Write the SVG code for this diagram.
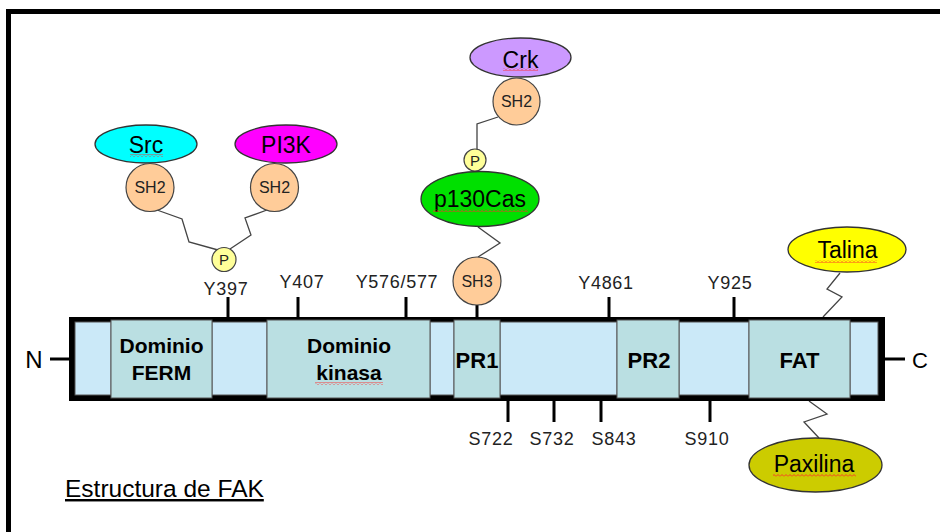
<svg xmlns="http://www.w3.org/2000/svg" width="940" height="532" viewBox="0 0 940 532">
<defs>
<pattern id="sq" width="4" height="3" patternUnits="userSpaceOnUse">
<path d="M0,2.5 L2,0.5 L4,2.5" fill="none" stroke="#ff2a2a" stroke-width="0.9"/>
</pattern>
</defs>
<style>
text{font-family:"Liberation Sans",Arial,sans-serif;fill:#000}
.dom{font-weight:bold;font-size:21px;text-anchor:middle}
.dom2{font-weight:bold;font-size:22px;text-anchor:middle}
.tick{font-size:18px;letter-spacing:0.7px;text-anchor:middle;fill:#222}
.lite{fill:#cbe9f8;stroke:#555;stroke-width:1}
.dark{fill:#badfe2;stroke:#555;stroke-width:1}
.tk{stroke:#000;stroke-width:3}
.sh{fill:#ffcc99;stroke:#444;stroke-width:1.2}
.sht{font-size:16px;text-anchor:middle;fill:#222}
.ph{fill:#ffff99;stroke:#444;stroke-width:1.2}
.pt{font-size:15px;text-anchor:middle;fill:#222}
.ell{stroke:#333;stroke-width:1.3}
.et{font-size:23px;text-anchor:middle}
.ln{fill:none;stroke:#444;stroke-width:1.3}
</style>
<rect width="940" height="532" fill="#fff"/>
<rect x="8.5" y="11.5" width="1000" height="600" fill="none" stroke="#000" stroke-width="5"/>

<g id="connectors">
<polyline class="ln" points="157,210 182,219 189,242 218,250"/>
<polyline class="ln" points="267,210 245,218 251,235 230,249"/>
<polyline class="ln" points="498,117 477,124 477,149"/>
<polyline class="ln" points="478,227 500,243 478,257"/>
<polyline class="ln" points="840,273 827,289 842,297 823,317"/>
<polyline class="ln" points="809,401 827,414 804,422 819,438"/>
<line class="tk" x1="50" y1="359" x2="69" y2="359"/>
<line class="tk" x1="885" y1="359" x2="905" y2="359"/>
<line class="tk" x1="228" y1="297" x2="228" y2="318"/>
<line class="tk" x1="298" y1="297" x2="298" y2="318"/>
<line class="tk" x1="406" y1="297" x2="406" y2="318"/>
<line class="tk" x1="477" y1="305" x2="477" y2="318"/>
<line class="tk" x1="609" y1="297" x2="609" y2="318"/>
<line class="tk" x1="734" y1="297" x2="734" y2="318"/>
<line class="tk" x1="508" y1="400" x2="508" y2="422"/>
<line class="tk" x1="554" y1="400" x2="554" y2="422"/>
<line class="tk" x1="601" y1="400" x2="601" y2="422"/>
<line class="tk" x1="710" y1="400" x2="710" y2="422"/>
</g>

<g id="fak-bar">
<rect x="69" y="317" width="816" height="84" fill="#000"/>
<rect class="lite" x="75" y="322" width="36" height="73"/>
<rect class="lite" x="212" y="322" width="55" height="73"/>
<rect class="lite" x="430" y="322" width="24" height="73"/>
<rect class="lite" x="500" y="322" width="117" height="73"/>
<rect class="lite" x="679" y="322" width="70" height="73"/>
<rect class="lite" x="850" y="322" width="28" height="73"/>
</g>
<g id="ferm">
<rect class="dark" x="111" y="320" width="101" height="78"/>
<text class="dom" x="161.5" y="353">Dominio</text>
<text class="dom" x="161.5" y="380">FERM</text>
</g>
<g id="kinasa">
<rect class="dark" x="267" y="320" width="163" height="78"/>
<text class="dom" x="349" y="353">Dominio</text>
<text class="dom" x="349" y="380">kinasa</text>
<rect x="315" y="382" width="68" height="3" fill="url(#sq)"/>
</g>
<g id="pr1">
<rect class="dark" x="454" y="320" width="46" height="78"/>
<text class="dom2" x="477" y="368">PR1</text>
</g>
<g id="pr2">
<rect class="dark" x="617" y="320" width="62" height="78"/>
<text class="dom2" x="649" y="368">PR2</text>
</g>
<g id="fat">
<rect class="dark" x="749" y="320" width="101" height="78"/>
<text class="dom2" x="799.5" y="368">FAT</text>
</g>

<g id="labels">
<text x="34" y="368" font-size="24" text-anchor="middle">N</text>
<text x="920" y="368" font-size="22" text-anchor="middle">C</text>
<text class="tick" x="226" y="295">Y397</text>
<text class="tick" x="302" y="288">Y407</text>
<text class="tick" x="397" y="288">Y576/577</text>
<text class="tick" x="606" y="289">Y4861</text>
<text class="tick" x="730" y="289">Y925</text>
<text class="tick" x="491" y="445">S722</text>
<text class="tick" x="552" y="445">S732</text>
<text class="tick" x="614" y="445">S843</text>
<text class="tick" x="707" y="445">S910</text>
</g>

<g id="src">
<ellipse class="ell" cx="146" cy="144" rx="51" ry="19" fill="#00ffff"/>
<text class="et" x="146" y="153">Src</text>
<rect x="130" y="154" width="33" height="3" fill="url(#sq)"/>
</g>
<g id="src-sh2">
<circle class="sh" cx="150" cy="187.5" r="24"/>
<text class="sht" x="150" y="193">SH2</text>
</g>
<g id="pi3k">
<ellipse class="ell" cx="286" cy="144" rx="51" ry="19" fill="#ff00ff"/>
<text class="et" x="286" y="153" font-size="24">PI3K</text>
</g>
<g id="pi3k-sh2">
<circle class="sh" cx="274.5" cy="187.5" r="24"/>
<text class="sht" x="274.5" y="193">SH2</text>
</g>
<g id="p-y397">
<circle class="ph" cx="224" cy="259.5" r="12"/>
<text class="pt" x="224" y="265">P</text>
</g>

<g id="crk">
<ellipse class="ell" cx="520.5" cy="57.5" rx="50.5" ry="19.5" fill="#cc99ff"/>
<text class="et" x="520.5" y="68">Crk</text>
<rect x="503" y="68" width="35" height="3" fill="url(#sq)"/>
</g>
<g id="crk-sh2">
<circle class="sh" cx="516.5" cy="101.5" r="23.5"/>
<text class="sht" x="516.5" y="107">SH2</text>
</g>
<g id="p-cas">
<circle class="ph" cx="475" cy="160" r="11"/>
<text class="pt" x="475" y="165.5">P</text>
</g>
<g id="p130cas">
<ellipse class="ell" cx="480" cy="199" rx="59" ry="27.5" fill="#00e000"/>
<text class="et" x="480" y="207" font-size="24">p130Cas</text>
<rect x="433" y="209" width="95" height="3" fill="url(#sq)"/>
</g>
<g id="sh3">
<circle class="sh" cx="477" cy="281" r="24"/>
<text class="sht" x="477" y="287">SH3</text>
</g>

<g id="talina">
<ellipse class="ell" cx="847" cy="249.5" rx="59" ry="22.5" fill="#ffff00"/>
<text class="et" x="847.5" y="258">Talina</text>
<rect x="815" y="260" width="62" height="3" fill="url(#sq)"/>
</g>
<g id="paxilina">
<ellipse class="ell" cx="815.5" cy="465" rx="66.5" ry="27" fill="#cccc00"/>
<text class="et" x="814" y="472" font-size="24">Paxilina</text>
<rect x="773" y="474" width="83" height="3" fill="url(#sq)"/>
</g>

<g id="title">
<text x="65" y="497" font-size="24.5" text-decoration="underline">Estructura de FAK</text>
</g>
</svg>
